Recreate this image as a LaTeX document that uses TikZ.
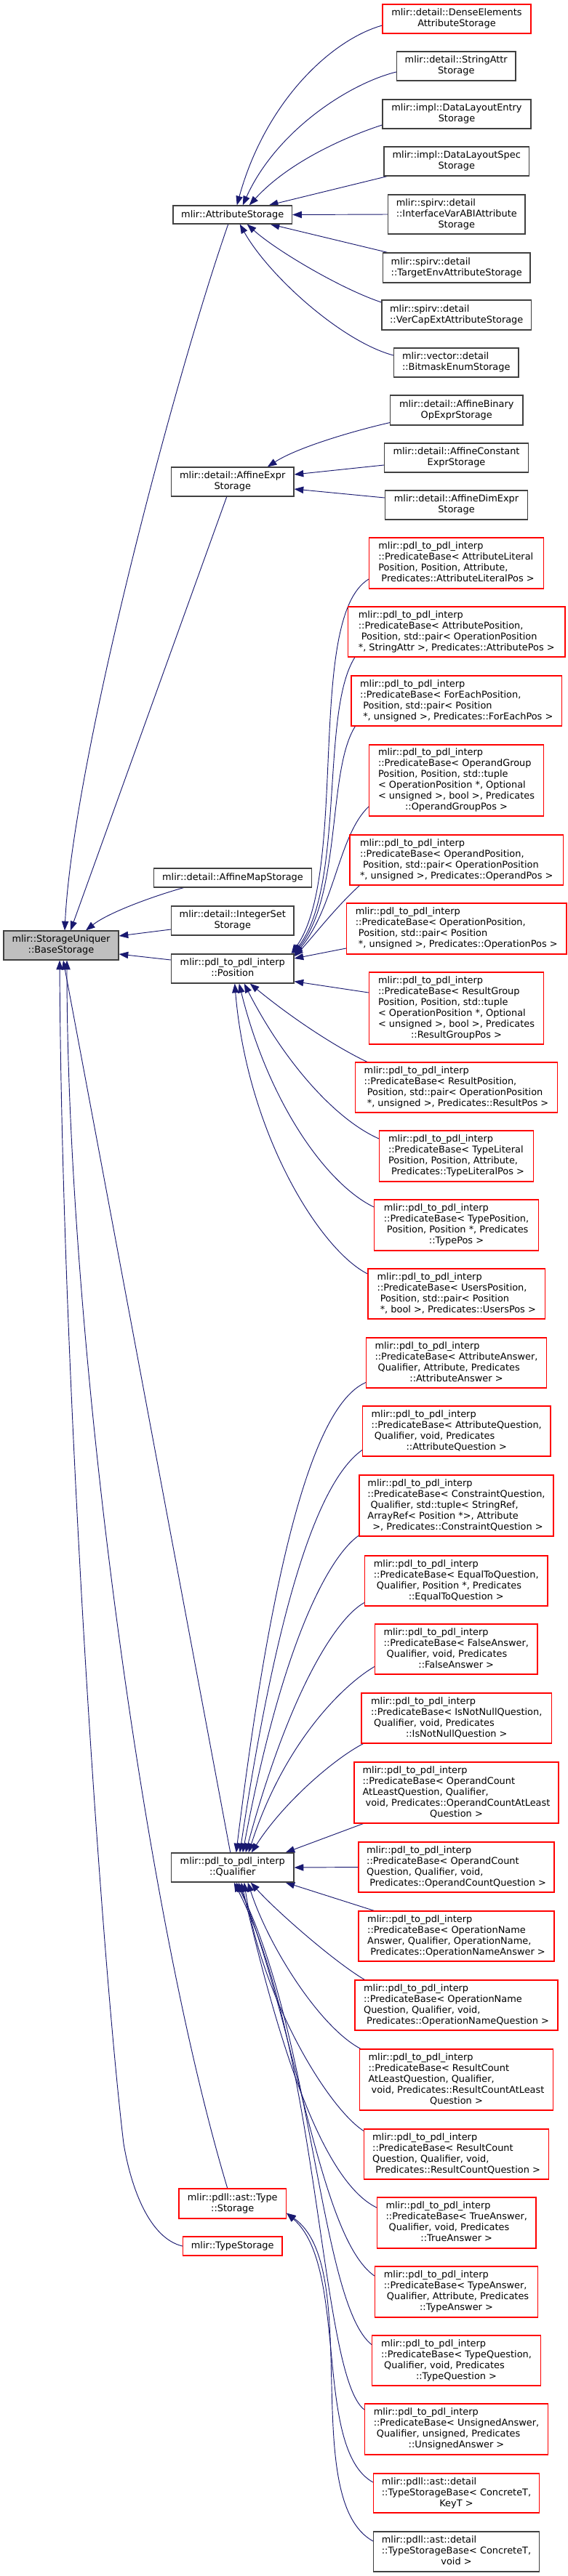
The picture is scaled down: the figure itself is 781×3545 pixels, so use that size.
\documentclass[tikz,border=0pt]{standalone}
\usepackage{fontspec}
\setmainfont{DejaVu Sans}
\usetikzlibrary{arrows.meta,calc,backgrounds}
\definecolor{navy}{HTML}{191970}
\definecolor{gborder}{HTML}{404040}
\definecolor{gfill}{HTML}{BFBFBF}
\definecolor{rborder}{HTML}{FF0000}
\newcommand{\pdl}{mlir::pdl\_to\_pdl\_interp}
\newcommand{\cl}[1]{\multicolumn{1}{@{}c@{}}{#1}}
\newcommand{\tb}[1]{\begin{tabular}{@{}l@{}}#1\end{tabular}}
\tikzset{
  box/.style={rectangle, draw=gborder, fill=white, line width=0.9pt, inner sep=0pt, font=\fontsize{9.68pt}{11.25pt}\selectfont},
  rbox/.style={box, draw=rborder},
  gbox/.style={box, fill=gfill},
  sz/.style 2 args={minimum width=#1*0.75pt, minimum height=#2*0.75pt},
  inh/.style={draw=navy, line width=0.7pt, -{Triangle[length=9.5pt,width=7pt]}},
}
\begin{document}
\begin{tikzpicture}[x=0.75pt, y=-0.75pt]
\useasboundingbox (0,0) rectangle (781,3545);
% right column: AttributeStorage children
\node[rbox, sz={204}{40}] (de) at (628,26) {\tb{mlir::detail::DenseElements\\\cl{AttributeStorage}}};
\node[box, sz={163.5}{40}] (sa) at (627.25,91) {\tb{mlir::detail::StringAttr\\\cl{Storage}}};
\node[box, sz={204}{40}] (dle) at (628,157) {\tb{mlir::impl::DataLayoutEntry\\\cl{Storage}}};
\node[box, sz={199.5}{40}] (dls) at (627.75,222) {\tb{mlir::impl::DataLayoutSpec\\\cl{Storage}}};
\node[box, sz={188.5}{54}] (iva) at (627.75,295) {\tb{mlir::spirv::detail\\::InterfaceVarABIAttribute\\\cl{Storage}}};
\node[box, sz={202.5}{41}] (te) at (627.75,368.5) {\tb{mlir::spirv::detail\\\cl{::TargetEnvAttributeStorage}}};
\node[box, sz={205.5}{41}] (vce) at (627.75,433.5) {\tb{mlir::spirv::detail\\\cl{::VerCapExtAttributeStorage}}};
\node[box, sz={171.5}{40}] (bm) at (627.25,499) {\tb{mlir::vector::detail\\\cl{::BitmaskEnumStorage}}};
% AffineExpr children
\node[box, sz={182.5}{41}] (ab) at (627.75,564.5) {\tb{mlir::detail::AffineBinary\\\cl{OpExprStorage}}};
\node[box, sz={198}{40}] (ac) at (627.5,630) {\tb{mlir::detail::AffineConstant\\\cl{ExprStorage}}};
\node[box, sz={196}{40}] (ad) at (627.5,695) {\tb{mlir::detail::AffineDimExpr\\\cl{Storage}}};
% Position children
\node[rbox, sz={240}{70}] (al) at (627.5,775) {\tb{\pdl\\::PredicateBase< AttributeLiteral\\Position, Position, Attribute,\\\cl{\ Predicates::AttributeLiteralPos >}}};
\node[rbox, sz={298.5}{69}] (ap) at (627.75,869.5) {\tb{\pdl\\::PredicateBase< AttributePosition,\\\ Position, std::pair< OperationPosition\\\cl{*, StringAttr >, Predicates::AttributePos >}}};
\node[rbox, sz={289.5}{69}] (fe) at (627.75,964.5) {\tb{\pdl\\::PredicateBase< ForEachPosition,\\\ Position, std::pair< Position\\\cl{\ *, unsigned >, Predicates::ForEachPos >}}};
\node[rbox, sz={240}{98}] (og) at (627.5,1074) {\tb{\pdl\\::PredicateBase< OperandGroup\\Position, Position, std::tuple\\< OperationPosition *, Optional\\< unsigned >, bool >, Predicates\\\cl{::OperandGroupPos >}}};
\node[rbox, sz={293.5}{69}] (op) at (627.75,1183.5) {\tb{\pdl\\::PredicateBase< OperandPosition,\\\ Position, std::pair< OperationPosition\\\cl{*, unsigned >, Predicates::OperandPos >}}};
\node[rbox, sz={302.5}{70}] (opn) at (627.75,1278) {\tb{\pdl\\::PredicateBase< OperationPosition,\\\ Position, std::pair< Position\\\cl{\ *, unsigned >, Predicates::OperationPos >}}};
\node[rbox, sz={240}{99}] (rg) at (627.5,1387.5) {\tb{\pdl\\::PredicateBase< ResultGroup\\Position, Position, std::tuple\\< OperationPosition *, Optional\\< unsigned >, bool >, Predicates\\\cl{::ResultGroupPos >}}};
\node[rbox, sz={278}{69}] (rp) at (627.5,1496.5) {\tb{\pdl\\::PredicateBase< ResultPosition,\\\ Position, std::pair< OperationPosition\\\cl{\ *, unsigned >, Predicates::ResultPos >}}};
\node[rbox, sz={212}{70}] (tl) at (627.5,1591) {\tb{\pdl\\::PredicateBase< TypeLiteral\\Position, Position, Attribute,\\\cl{\ Predicates::TypeLiteralPos >}}};
\node[rbox, sz={226}{70}] (tp) at (627.5,1686) {\tb{\pdl\\::PredicateBase< TypePosition,\\\ Position, Position *, Predicates\\\cl{::TypePos >}}};
\node[rbox, sz={243.5}{69}] (up) at (627.75,1780.5) {\tb{\pdl\\::PredicateBase< UsersPosition,\\\ Position, std::pair< Position\\\cl{\ *, bool >, Predicates::UsersPos >}}};
% Qualifier children
\node[rbox, sz={248}{69}] (aa) at (627.5,1875.5) {\tb{\pdl\\::PredicateBase< AttributeAnswer,\\\ Qualifier, Attribute, Predicates\\\cl{::AttributeAnswer >}}};
\node[rbox, sz={258.5}{69}] (aq) at (627.75,1969.5) {\tb{\pdl\\::PredicateBase< AttributeQuestion,\\\ Qualifier, void, Predicates\\\cl{::AttributeQuestion >}}};
\node[rbox, sz={267}{84}] (cq) at (627.5,2072) {\tb{\pdl\\::PredicateBase< ConstraintQuestion,\\\ Qualifier, std::tuple< StringRef,\\ArrayRef< Position *>, Attribute\\\cl{\ >, Predicates::ConstraintQuestion >}}};
\node[rbox, sz={251.5}{69}] (eq) at (627.25,2175.5) {\tb{\pdl\\::PredicateBase< EqualToQuestion,\\\ Qualifier, Position *, Predicates\\\cl{::EqualToQuestion >}}};
\node[rbox, sz={223.5}{69}] (fa) at (627.25,2269.5) {\tb{\pdl\\::PredicateBase< FalseAnswer,\\\ Qualifier, void, Predicates\\\cl{::FalseAnswer >}}};
\node[rbox, sz={261.5}{69}] (nn) at (627.75,2364.5) {\tb{\pdl\\::PredicateBase< IsNotNullQuestion,\\\ Qualifier, void, Predicates\\\cl{::IsNotNullQuestion >}}};
\node[rbox, sz={281}{84}] (ocl) at (627.5,2467) {\tb{\pdl\\::PredicateBase< OperandCount\\AtLeastQuestion, Qualifier,\\\ void, Predicates::OperandCountAtLeast\\\cl{Question >}}};
\node[rbox, sz={269}{69}] (ocq) at (627.5,2569.5) {\tb{\pdl\\::PredicateBase< OperandCount\\Question, Qualifier, void,\\\cl{\ Predicates::OperandCountQuestion >}}};
\node[rbox, sz={269}{69}] (ona) at (627.5,2664.5) {\tb{\pdl\\::PredicateBase< OperationName\\Answer, Qualifier, OperationName,\\\cl{\ Predicates::OperationNameAnswer >}}};
\node[rbox, sz={279}{69}] (onq) at (627.5,2759.5) {\tb{\pdl\\::PredicateBase< OperationName\\Question, Qualifier, void,\\\cl{\ Predicates::OperationNameQuestion >}}};
\node[rbox, sz={266}{84}] (rcl) at (627.5,2862) {\tb{\pdl\\::PredicateBase< ResultCount\\AtLeastQuestion, Qualifier,\\\ void, Predicates::ResultCountAtLeast\\\cl{Question >}}};
\node[rbox, sz={254}{69}] (rcq) at (627.5,2964.5) {\tb{\pdl\\::PredicateBase< ResultCount\\Question, Qualifier, void,\\\cl{\ Predicates::ResultCountQuestion >}}};
\node[rbox, sz={218.5}{70}] (ta) at (627.75,3059) {\tb{\pdl\\::PredicateBase< TrueAnswer,\\\ Qualifier, void, Predicates\\\cl{::TrueAnswer >}}};
\node[rbox, sz={224}{70}] (tya) at (627.5,3154) {\tb{\pdl\\::PredicateBase< TypeAnswer,\\\ Qualifier, Attribute, Predicates\\\cl{::TypeAnswer >}}};
\node[rbox, sz={232}{69}] (tq) at (627.5,3248.5) {\tb{\pdl\\::PredicateBase< TypeQuestion,\\\ Qualifier, void, Predicates\\\cl{::TypeQuestion >}}};
\node[rbox, sz={252}{70}] (ua) at (627.5,3343) {\tb{\pdl\\::PredicateBase< UnsignedAnswer,\\\ Qualifier, unsigned, Predicates\\\cl{::UnsignedAnswer >}}};
% Type::Storage children
\node[rbox, sz={228}{54}] (tsk) at (627.5,3431) {\tb{mlir::pdll::ast::detail\\::TypeStorageBase< ConcreteT,\\\cl{KeyT >}}};
\node[box, sz={228}{55}] (tsv) at (627.5,3511.5) {\tb{mlir::pdll::ast::detail\\::TypeStorageBase< ConcreteT,\\\cl{void >}}};
% middle column
\node[box, sz={163.5}{25}] (as) at (319.75,295.5) {mlir::AttributeStorage};
\node[box, sz={168.5}{40}] (ae) at (319.75,663) {\tb{mlir::detail::AffineExpr\\\cl{Storage}}};
\node[box, sz={217}{26}] (am) at (320,1208) {mlir::detail::AffineMapStorage};
\node[box, sz={168.5}{40}] (is) at (319.75,1267) {\tb{mlir::detail::IntegerSet\\\cl{Storage}}};
\node[box, sz={168.5}{40}] (pos) at (319.75,1333) {\tb{\pdl\\\cl{::Position}}};
\node[box, sz={168.5}{40}] (qual) at (319.75,2570) {\tb{\pdl\\\cl{::Qualifier}}};
\node[rbox, sz={147.5}{41}] (ats) at (319.75,3032.5) {\tb{mlir::pdll::ast::Type\\\cl{::Storage}}};
\node[rbox, sz={136.5}{26}] (ts) at (319.75,3091) {mlir::TypeStorage};
% root
\node[gbox, sz={158}{40}] (base) at (84,1301) {\tb{mlir::StorageUniquer\\\cl{::BaseStorage}}};

\begin{pgfonlayer}{background}
\fill[white] (0,0) rectangle (781,3545);
% AttributeStorage
\draw[inh] ($(de.west)+(0,9)$) .. controls (455,55) and (365,140) .. ($(as.north)+(6,0)$);
\draw[inh] ($(sa.west)+(0,8)$) .. controls (480,115) and (380,180) .. ($(as.north)+(14,0)$);
\draw[inh] ($(dle.west)+(0,15)$) .. controls (470,190) and (395,225) .. ($(as.north)+(23,0)$);
\draw[inh] ($(dls.south west)+(5,0)$) -- ($(as.north)+(50,0)$);
\draw[inh] (iva.west) -- (as.east);
\draw[inh] ($(te.north west)+(7,0)$) -- ($(as.south)+(52,0)$);
\draw[inh] ($(vce.west)+(0,-17.5)$) .. controls (470,398) and (380,345) .. ($(as.south)+(20,0)$);
\draw[inh] ($(bm.west)+(0,-10)$) .. controls (470,470) and (370,380) .. ($(as.south)+(10,0)$);
% to BaseStorage
\draw[inh] ($(as.south)+(-6,0)$) .. controls (240,520) and (100,1050) .. ($(base.north)+(5,0)$);
\draw[inh] ($(ae.south)+(-8,0)$) -- ($(base.north)+(13,0)$);
\draw[inh] ($(am.south)+(-67.5,0)$) .. controls (215,1232) and (150,1255) .. ($(base.north)+(34,0)$);
\draw[inh] ($(is.west)+(0,12)$) -- ($(base.east)+(0,-13)$);
\draw[inh] ($(pos.west)+(0,-12)$) -- ($(base.east)+(0,12)$);
\draw[inh] ($(qual.north)+(-3,0)$) -- ($(base.south)+(3,0)$);
\draw[inh] ($(ats.north)+(-7,0)$) .. controls (193,2612) and (92,1822) .. ($(base.south)+(8,0)$);
\draw[inh] (ts.west) .. controls (205,3080) and (180,3010) .. (170,2950) .. controls (140,2700) and (85,1900) .. ($(base.south)+(-2,0)$);
% AffineExpr
\draw[inh] ($(ab.south west)+(0,-4)$) .. controls (490,592) and (410,615) .. ($(ae.north)+(48,0)$);
\draw[inh] ($(ac.west)+(0,10)$) -- ($(ae.east)+(0,-10)$);
\draw[inh] ($(ad.west)+(0,-10)$) -- ($(ae.east)+(0,10)$);
% Position
\draw[inh] ($(al.west)+(0,22)$) .. controls (420,850) and (480,1200) .. ($(pos.north east)+(-4,0)$);
\draw[inh] ($(ap.south west)+(10,0)$) .. controls (440,980) and (475,1220) .. ($(pos.north east)+(-2,0)$);
\draw[inh] ($(fe.south west)+(6,0)$) .. controls (450,1060) and (470,1230) .. (pos.north east);
\draw[inh] ($(og.west)+(0,36)$) .. controls (465,1150) and (460,1250) .. ($(pos.north east)+(0,2)$);
\draw[inh] ($(op.south west)+(14,0)$) .. controls (460,1250) and (430,1290) .. ($(pos.north east)+(0,4)$);
\draw[inh] ($(opn.west)+(0,27)$) -- ($(pos.east)+(0,-14)$);
\draw[inh] ($(rg.west)+(0,-21.5)$) -- ($(pos.south east)+(0,-3)$);
\draw[inh] ($(rp.north west)+(17,0)$) .. controls (460,1440) and (400,1400) .. ($(pos.south)+(24,0)$);
\draw[inh] ($(tl.west)+(0,-24)$) .. controls (460,1540) and (390,1460) .. ($(pos.south)+(16,0)$);
\draw[inh] ($(tp.west)+(0,-25)$) .. controls (450,1630) and (370,1520) .. ($(pos.south)+(9,0)$);
\draw[inh] ($(up.west)+(0,-27.5)$) .. controls (440,1720) and (340,1560) .. ($(pos.south)+(3,0)$);
% Qualifier
\draw[inh] ($(aa.west)+(0,27)$) .. controls (440,1930) and (380,2100) .. ($(qual.north)+(5,0)$);
\draw[inh] ($(aq.west)+(0,26)$) .. controls (450,2030) and (390,2150) .. ($(qual.north)+(10,0)$);
\draw[inh] ($(cq.west)+(0,41)$) .. controls (455,2140) and (390,2250) .. ($(qual.north)+(14,0)$);
\draw[inh] ($(eq.west)+(0,30)$) .. controls (465,2225) and (400,2320) .. ($(qual.north)+(18,0)$);
\draw[inh] ($(fa.west)+(0,24)$) .. controls (470,2320) and (390,2400) .. ($(qual.north)+(22,0)$);
\draw[inh] ($(nn.south west)+(3,0)$) .. controls (460,2420) and (390,2480) .. ($(qual.north)+(26,0)$);
\draw[inh] ($(ocl.south west)+(13,0)$) -- ($(qual.north east)+(-12,0)$);
\draw[inh] (ocq.west) -- (qual.east);
\draw[inh] ($(ona.north west)+(22,0)$) -- ($(qual.south east)+(-12,0)$);
\draw[inh] ($(onq.north west)+(14,0)$) .. controls (460,2700) and (380,2630) .. ($(qual.south)+(25,0)$);
\draw[inh] ($(rcl.north west)+(2,0)$) .. controls (440,2790) and (370,2680) .. ($(qual.south)+(21,0)$);
\draw[inh] ($(rcq.north west)+(0,3)$) .. controls (450,2900) and (360,2750) .. ($(qual.south)+(16,0)$);
\draw[inh] ($(ta.west)+(0,-21)$) .. controls (440,3000) and (380,2800) .. ($(qual.south)+(12,0)$);
\draw[inh] ($(tya.west)+(0,-22)$) .. controls (440,3080) and (410,2800) .. ($(qual.south)+(8,0)$);
\draw[inh] ($(tq.west)+(0,-22)$) .. controls (440,3170) and (430,2800) .. ($(qual.south)+(5,0)$);
\draw[inh] ($(ua.west)+(0,-27)$) .. controls (440,3270) and (440,2820) .. ($(qual.south)+(2,0)$);
% Type::Storage
\draw[inh] ($(tsk.west)+(0,-15)$) .. controls (430,3370) and (480,3120) .. ($(ats.south east)+(0,-8)$);
\draw[inh] ($(tsv.west)+(0,-14.5)$) .. controls (410,3440) and (500,3120) .. ($(ats.south east)+(0,-8)$);
\end{pgfonlayer}
\end{tikzpicture}
\end{document}
